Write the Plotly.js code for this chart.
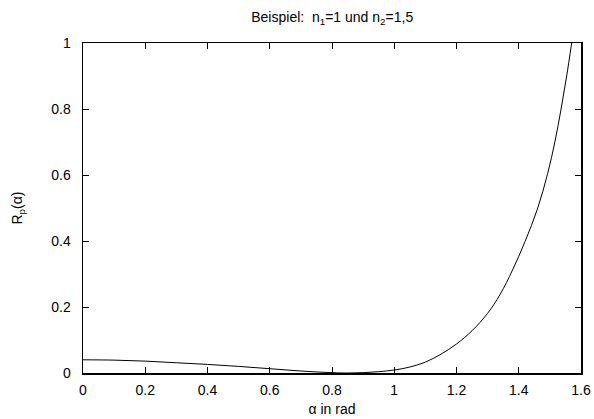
<!DOCTYPE html>
<html>
<head>
<meta charset="utf-8">
<script src="https://cdn.plot.ly/plotly-3.0.1.min.js"></script>
<style>html,body{margin:0;padding:0;background:#fff;}#chart{width:594px;height:419px;}</style>
</head>
<body>
<div id="chart"></div>
<script>
// Values
var alpha = [0, 0.1, 0.2, 0.3, 0.4, 0.5, 0.6, 0.7, 0.8, 0.85, 0.9, 0.95, 1.0, 1.05, 1.1, 1.15, 1.2, 1.25, 1.3, 1.34, 1.38, 1.42, 1.46, 1.493, 1.516, 1.536, 1.554, 1.570];
var rp    = [0.040, 0.039, 0.036, 0.031, 0.026, 0.020, 0.013, 0.006, 0.001, 0.000, 0.001, 0.004, 0.009, 0.018, 0.033, 0.057, 0.088, 0.128, 0.181, 0.238, 0.312, 0.398, 0.497, 0.605, 0.700, 0.800, 0.900, 1.000];
var xTicks = [0, 0.2, 0.4, 0.6, 0.8, 1, 1.2, 1.4, 1.6];
var yTicks = [0, 0.2, 0.4, 0.6, 0.8, 1];
var titleText = 'Beispiel:&nbsp; n<sub>1</sub>=1 und n<sub>2</sub>=1,5';
var xTitle = '\u03b1 in rad';
var yTitle = 'R<sub>p</sub>(\u03b1)';

var FONT = 'Liberation Sans, Arial, sans-serif';
var trace = {
  x: alpha, y: rp, type: 'scatter', mode: 'lines',
  line: {color: '#000', width: 1, shape: 'spline', smoothing: 1},
  hoverinfo: 'none'
};
var axisCommon = {
  showgrid: false, zeroline: false, showline: true, linecolor: '#000', linewidth: 1.5,
  mirror: 'ticks', ticks: 'inside', ticklen: 6, tickwidth: 1, tickcolor: '#000',
  tickfont: {family: FONT, size: 14, color: '#000'}
};
var layout = {
  width: 594, height: 419,
  margin: {l: 83, r: 13, t: 43, b: 46},
  paper_bgcolor: '#fff', plot_bgcolor: '#fff',
  showlegend: false,
  font: {family: FONT, size: 14, color: '#000'},
  title: {text: titleText, x: 0.5593, xanchor: 'center', y: 0.959, yanchor: 'middle',
          font: {family: FONT, size: 14, color: '#000'}},
  xaxis: Object.assign({}, axisCommon, {
    range: [0, 1.6], tickvals: xTicks, ticktext: xTicks.map(String), ticklabelstandoff: 4,
    title: {text: xTitle, standoff: 7, font: {family: FONT, size: 14}}
  }),
  yaxis: Object.assign({}, axisCommon, {
    range: [0, 1], tickvals: yTicks, ticktext: yTicks.map(String), ticklabelstandoff: 8,
    title: {text: yTitle, standoff: 25, font: {family: FONT, size: 14}}
  })
};
Plotly.newPlot('chart', [trace], layout, {staticPlot: true, displayModeBar: false});
</script>
</body>
</html>
